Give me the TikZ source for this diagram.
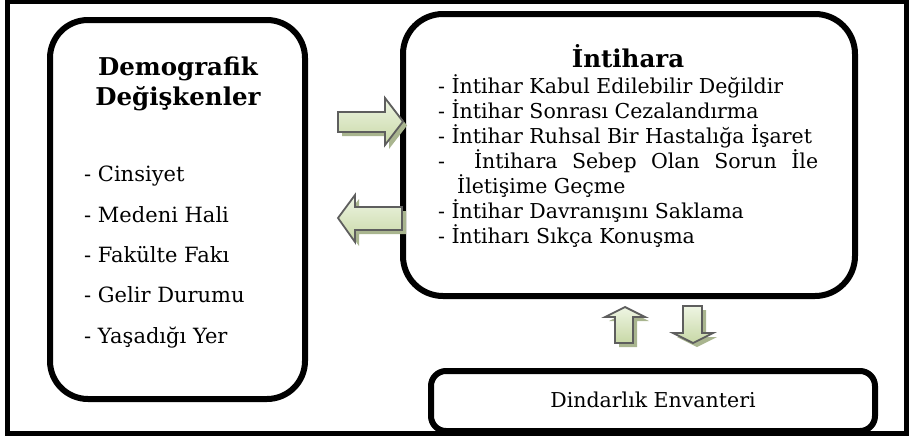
\documentclass[tikz,border=0pt]{standalone}
\usepackage{fontspec}
\setmainfont{DejaVu Serif}
\definecolor{arrowlight}{HTML}{EEF5E3}
\definecolor{arrowdark}{HTML}{C8D8A6}
\definecolor{shadowgreen}{HTML}{A9B58F}
\definecolor{arrowgray}{HTML}{5E5E5E}
\begin{document}
\begin{tikzpicture}[x=1pt,y=-1pt,
  frame/.style={draw=black,line width=5pt,inner sep=0pt,outer sep=0pt},
  bigbox/.style={draw=black,fill=white,line width=6pt,inner sep=0pt,outer sep=0pt},
  titletext/.style={font=\fontsize{24.5}{28}\selectfont\bfseries,inner sep=0pt,anchor=base},
  lefttext/.style={font=\fontsize{21}{25}\selectfont,inner sep=0pt,anchor=base west},
  righttext/.style={font=\fontsize{20.5}{24}\selectfont,inner sep=0pt,anchor=base west},
  blockarrow/.style={draw=arrowgray,line width=1.8pt,line join=miter,top color=arrowlight,bottom color=arrowdark},
  arrowshadow/.style={fill=shadowgreen,draw=none}]
\useasboundingbox (0,0) rectangle (911,437);
% outer frame
\node[frame,minimum width=899pt,minimum height=432pt] (frame) at (456.5,217) {};
% boxes
\node[bigbox,rounded corners=38pt,minimum width=255pt,minimum height=379pt] (demo) at (177.5,209.5) {};
\node[bigbox,rounded corners=40pt,minimum width=452pt,minimum height=282pt] (intihar) at (629,155) {};
\node[bigbox,rounded corners=15pt,minimum width=444pt,minimum height=60pt] (dindar) at (653,401) {};
% left box text
\node[titletext] (demot1) at (178,75) {Demografik};
\node[titletext] (demot2) at (178,105) {Değişkenler};
\node[lefttext] (l1) at (84,181) {- Cinsiyet};
\node[lefttext] (l2) at (84,222) {- Medeni Hali};
\node[lefttext] (l3) at (84,262) {- Fakülte Fakı};
\node[lefttext] (l4) at (84,302) {- Gelir Durumu};
\node[lefttext] (l5) at (84,343) {- Yaşadığı Yer};
% right box text
\node[titletext] (intt) at (628,67) {İntihara};
\node[righttext] (r1) at (438,93) {- İntihar Kabul Edilebilir Değildir};
\node[righttext] (r2) at (438,118) {- İntihar Sonrası Cezalandırma};
\node[righttext] (r3) at (438,143) {- İntihar Ruhsal Bir Hastalığa İşaret};
\node[righttext] (r4) at (438,168) {\makebox[380pt][s]{- \ İntihara Sebep Olan Sorun İle}};
\node[righttext] (r5) at (457,193) {İletişime Geçme};
\node[righttext] (r6) at (438,218) {- İntihar Davranışını Saklama};
\node[righttext] (r7) at (438,243) {- İntiharı Sıkça Konuşma};
% bottom box text
\node[font=\fontsize{20.5}{24}\selectfont,inner sep=0pt,anchor=base] (dindart) at (653,407) {Dindarlık Envanteri};
% block arrows: right
\fill[arrowshadow] (342,116) -- (389,116) -- (389,102) -- (407,125.5) -- (389,149) -- (389,136) -- (342,136) -- cycle;
\path[blockarrow] (338,112) -- (385,112) -- (385,98) -- (403,121.5) -- (385,145) -- (385,132) -- (338,132) -- cycle;
% left
\fill[arrowshadow] (342,222) -- (359,199) -- (359,211) -- (406,211) -- (406,234) -- (359,234) -- (359,246) -- cycle;
\path[blockarrow] (338,218) -- (355,195) -- (355,207) -- (402,207) -- (402,230) -- (355,230) -- (355,242) -- cycle;
% up
\fill[arrowshadow] (629,311) -- (649,321) -- (637,321) -- (637,347) -- (619,347) -- (619,321) -- (609,321) -- cycle;
\path[blockarrow] (625,307) -- (645,317) -- (633,317) -- (633,343) -- (615,343) -- (615,317) -- (605,317) -- cycle;
% down
\fill[arrowshadow] (687,310) -- (706,310) -- (706,337) -- (717,337) -- (697,347) -- (677,337) -- (687,337) -- cycle;
\path[blockarrow] (683,306) -- (702,306) -- (702,333) -- (713,333) -- (693,343) -- (673,333) -- (683,333) -- cycle;
\end{tikzpicture}
\end{document}
